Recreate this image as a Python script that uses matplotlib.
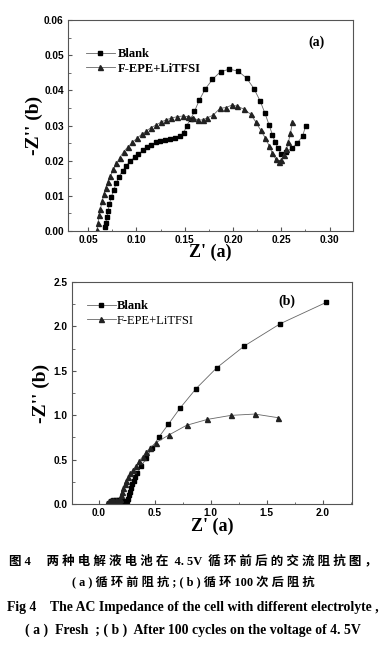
import numpy as np
import matplotlib.pyplot as plt
from matplotlib.ticker import MultipleLocator

# (a) fresh cells
blank_a_x = [0.0672, 0.0682, 0.0696, 0.0706, 0.072, 0.074, 0.0765, 0.079, 0.082, 0.0858,
             0.0895, 0.0937, 0.098, 0.102, 0.107, 0.111, 0.115, 0.12, 0.1246, 0.13,
             0.135, 0.14, 0.145, 0.149, 0.152, 0.156, 0.160, 0.165, 0.171, 0.1786,
             0.187, 0.196, 0.205, 0.214, 0.2216, 0.228, 0.233, 0.2374, 0.2408, 0.2436,
             0.2467, 0.250, 0.2553, 0.261, 0.2667, 0.272, 0.2752]
blank_a_y = [0.001, 0.0024, 0.0041, 0.0058, 0.0077, 0.0098, 0.0117, 0.0136, 0.0155, 0.0172,
             0.0186, 0.0199, 0.021, 0.022, 0.0229, 0.0238, 0.0245, 0.0252, 0.0257, 0.026,
             0.0263, 0.0265, 0.027, 0.028, 0.030, 0.0318, 0.034, 0.0372, 0.0403, 0.0431,
             0.0453, 0.046, 0.0455, 0.0435, 0.0405, 0.037, 0.0335, 0.0301, 0.0273, 0.0252,
             0.0235, 0.0218, 0.0226, 0.0235, 0.0251, 0.027, 0.0299]
fepe_a_x = [0.0593, 0.0603, 0.0613, 0.0627, 0.0644, 0.0662, 0.0682, 0.0706, 0.073, 0.0761,
            0.0792, 0.0827, 0.0868, 0.0913, 0.0957, 0.1005, 0.1054, 0.110, 0.115, 0.120,
            0.125, 0.1305, 0.136, 0.1418, 0.148, 0.1538, 0.159, 0.164, 0.1686, 0.1735,
            0.1796, 0.1865, 0.1927, 0.1986, 0.2044, 0.2116, 0.2182, 0.2233, 0.2285, 0.2333,
            0.2374, 0.2408, 0.2443, 0.2477, 0.250, 0.2525, 0.2553, 0.2574, 0.2594, 0.2615]
fepe_a_y = [0.0003, 0.0024, 0.0045, 0.0064, 0.0085, 0.0104, 0.0123, 0.014, 0.0157, 0.0175,
            0.0192, 0.0209, 0.0226, 0.024, 0.0252, 0.0264, 0.0275, 0.0284, 0.0294, 0.0301,
            0.0309, 0.0316, 0.0321, 0.0325, 0.0327, 0.0325, 0.032, 0.0316, 0.0316, 0.0322,
            0.033, 0.0349, 0.0351, 0.0358, 0.0355, 0.0346, 0.0332, 0.0311, 0.0287, 0.0265,
            0.0242, 0.0221, 0.0204, 0.0196, 0.0202, 0.0216, 0.0233, 0.0254, 0.0278, 0.0309]

# (b) after 100 cycles
blank_b_x = [0.09, 0.11, 0.13, 0.15, 0.17, 0.19, 0.21, 0.23, 0.25, 0.26, 0.27, 0.28,
             0.29, 0.30, 0.31, 0.325, 0.345, 0.378, 0.423, 0.473, 0.539, 0.622, 0.726,
             0.869, 1.054, 1.30, 1.62, 2.03]
blank_b_y = [0.01, 0.03, 0.04, 0.04, 0.04, 0.04, 0.035, 0.03, 0.03, 0.06, 0.10, 0.14,
             0.18, 0.22, 0.26, 0.30, 0.349, 0.424, 0.514, 0.627, 0.758, 0.90, 1.081,
             1.30, 1.535, 1.78, 2.03, 2.27]
fepe_b_x = [0.07, 0.09, 0.11, 0.13, 0.15, 0.17, 0.18, 0.19, 0.20, 0.21, 0.22, 0.23,
            0.24, 0.259, 0.28, 0.304, 0.33, 0.357, 0.39, 0.42, 0.46, 0.509, 0.631,
            0.783, 0.970, 1.179, 1.393, 1.601]
fepe_b_y = [0.01, 0.03, 0.04, 0.04, 0.04, 0.035, 0.03, 0.06, 0.10, 0.14, 0.18, 0.22,
            0.26, 0.30, 0.345, 0.387, 0.43, 0.48, 0.53, 0.582, 0.635, 0.691, 0.781,
            0.886, 0.953, 0.998, 1.013, 0.972]

serif = ['Liberation Serif', 'DejaVu Serif']
cjk = ['Liberation Serif', 'Noto Sans CJK SC']

fig = plt.figure(figsize=(3.86, 6.48), dpi=100)
ax1 = fig.add_axes([0.176, 0.6435, 0.738, 0.3256])
ax2 = fig.add_axes([0.1865, 0.2222, 0.725, 0.3426])

def style(ax):
    for s in ax.spines.values():
        s.set_color('#555555')
        s.set_linewidth(0.8)
    ax.tick_params(which='both', direction='in', top=False, right=False,
                   color='#555555', labelsize=7.3, pad=3)
    ax.tick_params(which='major', length=3)
    ax.tick_params(which='minor', length=1.8)
    for lab in ax.get_xticklabels() + ax.get_yticklabels():
        lab.set_fontweight('bold')
        lab.set_family('Liberation Sans')

# panel (a)
ax1.plot(blank_a_x, blank_a_y, '-s', color='#666666', lw=0.6, ms=3.3,
         mfc='black', mec='black', label='Blank')
ax1.plot(fepe_a_x, fepe_a_y, '-^', color='#666666', lw=0.6, ms=3.6,
         mfc='#222222', mec='#222222', label='F-EPE+LiTFSI')
ax1.set_xlim(0.029, 0.324)
ax1.set_ylim(0, 0.06)
ax1.set_xticks(np.arange(0.05, 0.31, 0.05))
ax1.xaxis.set_minor_locator(MultipleLocator(0.025))
ax1.set_yticks(np.arange(0, 0.061, 0.01))
ax1.yaxis.set_minor_locator(MultipleLocator(0.005))
ax1.xaxis.set_major_formatter(plt.FormatStrFormatter('%.2f'))
ax1.yaxis.set_major_formatter(plt.FormatStrFormatter('%.2f'))
style(ax1)
ax1.set_xlabel("Z' (a)", family=serif, fontweight='bold', fontsize=13, labelpad=-1)
ax1.set_ylabel("-Z'' (b)", family=serif, fontweight='bold', fontsize=14, labelpad=1)
ax1.text(0.874, 0.896, '(a)', transform=ax1.transAxes, family=serif,
         fontweight='bold', fontsize=10, ha='center', va='center')
ax1.legend(loc='upper left', bbox_to_anchor=(0.045, 0.89), frameon=False,
           prop={'family': serif, 'weight': 'bold', 'size': 9},
           handlelength=2.3, handletextpad=0.3, labelspacing=0.2, borderaxespad=0)

# panel (b)
ax2.plot(blank_b_x, blank_b_y, '-s', color='#666666', lw=0.6, ms=3.3,
         mfc='black', mec='black', label='Blank')
ax2.plot(fepe_b_x, fepe_b_y, '-^', color='#666666', lw=0.6, ms=3.6,
         mfc='#222222', mec='#222222', label='F-EPE+LiTFSI')
ax2.set_xlim(-0.24, 2.26)
ax2.set_ylim(0, 2.5)
ax2.set_xticks(np.arange(0, 2.01, 0.5))
ax2.xaxis.set_minor_locator(MultipleLocator(0.25))
ax2.set_yticks(np.arange(0, 2.51, 0.5))
ax2.yaxis.set_minor_locator(MultipleLocator(0.25))
ax2.xaxis.set_major_formatter(plt.FormatStrFormatter('%.1f'))
ax2.yaxis.set_major_formatter(plt.FormatStrFormatter('%.1f'))
style(ax2)
ax2.set_xlabel("Z' (a)", family=serif, fontweight='bold', fontsize=13, labelpad=0)
ax2.set_ylabel("-Z'' (b)", family=serif, fontweight='bold', fontsize=14, labelpad=3)
ax2.text(0.768, 0.914, '(b)', transform=ax2.transAxes, family=serif,
         fontweight='bold', fontsize=10, ha='center', va='center')
leg2 = ax2.legend(loc='upper left', bbox_to_anchor=(0.035, 0.94), frameon=False,
                  prop={'family': serif, 'size': 9},
                  handlelength=2.3, handletextpad=0.1, labelspacing=0.2, borderaxespad=0)
leg2.get_texts()[0].set_fontweight('bold')

# caption
cap1 = '图 4     两 种 电 解 液 电 池 在  4. 5V  循 环 前 后 的 交 流 阻 抗 图 ，'
cap2 = '( a ) 循 环 前 阻 抗 ; ( b ) 循 环 100 次 后 阻 抗'
cap3 = 'Fig 4    The AC Impedance of the cell with different electrolyte ,'
cap4 = '( a )  Fresh  ; ( b )  After 100 cycles on the voltage of 4. 5V'
fig.text(0.5, 1 - 561 / 648, cap1, family=cjk, fontweight='bold', fontsize=9.0,
         ha='center', va='center')
fig.text(0.5, 1 - 583 / 648, cap2, family=cjk, fontweight='bold', fontsize=8.8,
         ha='center', va='center')
fig.text(0.5, 1 - 607 / 648, cap3, family=serif, fontweight='bold', fontsize=9.9,
         ha='center', va='center')
fig.text(0.5, 1 - 630 / 648, cap4, family=serif, fontweight='bold', fontsize=9.9,
         ha='center', va='center')

fig.savefig('out.png', dpi=100)
